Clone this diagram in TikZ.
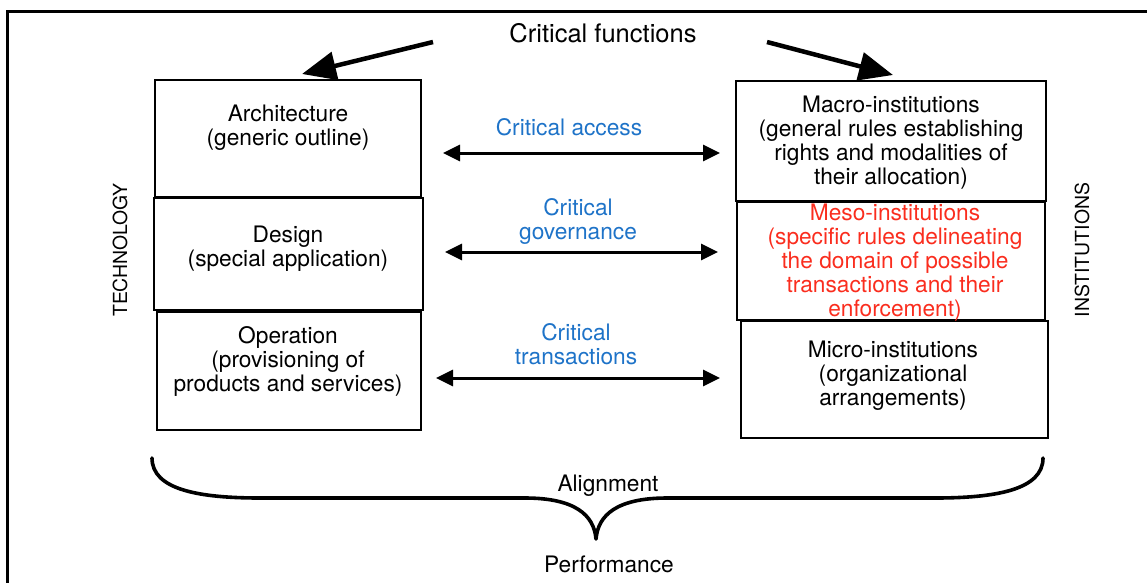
\documentclass[tikz,border=0pt]{standalone}
\usepackage{fontspec}
\setmainfont{TeX Gyre Heros}
\usetikzlibrary{arrows.meta}
\definecolor{keyblue}{RGB}{30,115,200}
\definecolor{keyred}{RGB}{250,45,30}
\begin{document}
\begin{tikzpicture}[x=1pt,y=-1pt,
  layerbox/.style={draw,line width=2.8pt,inner sep=0pt},
  txt/.style={font=\fontsize{22.7}{24}\selectfont,align=center,inner sep=0pt},
  side/.style={font=\fontsize{19.4}{20}\selectfont,rotate=90,inner sep=0pt},
  link/.style={line width=3pt,{Triangle[length=17pt,width=16pt]}-{Triangle[length=17pt,width=16pt]}},
  feed/.style={line width=4.5pt,-{Triangle[length=34pt,width=28pt]}},
  bracket/.style={line width=3.6pt,line cap=round,line join=round}]
\useasboundingbox (0,0) rectangle (1147,582);

% frame
\draw[line width=3pt] (1160,11) -- (7,11) -- (7,600);

% technology layers
\node[layerbox,minimum width=266pt,minimum height=117pt] (arch) at (288,138.5) {};
\node[layerbox,minimum width=269pt,minimum height=112pt] (design) at (288.5,254) {};
\node[layerbox,minimum width=264pt,minimum height=118pt] (oper) at (289,371) {};
\node[txt] (archtxt) at (288,127.5) {Architecture\\(generic outline)};
\node[txt] (designtxt) at (288,248.5) {Design\\(special application)};
\node[txt] (opertxt) at (288,361.5) {Operation\\(provisioning of\\products and services)};

% institution layers
\node[layerbox,minimum width=310pt,minimum height=120pt] (macro) at (891,141) {};
\node[layerbox,minimum width=308pt,minimum height=118pt] (meso) at (891,261) {};
\node[layerbox,minimum width=307pt,minimum height=117pt] (micro) at (894.5,379.5) {};
\node[txt] (macrotxt) at (891,142.5) {Macro-institutions\\(general rules establishing\\rights and modalities of\\their allocation)};
\node[txt,text=keyred] (mesotxt) at (895,262.5) {Meso-institutions\\(specific rules delineating\\the domain of possible\\transactions and their\\enforcement)};
\node[txt] (microtxt) at (893,375.5) {Micro-institutions\\(organizational\\arrangements)};

% side labels
\node[side] (tech) at (120,250) {TECHNOLOGY};
\node[side] (inst) at (1082,250) {INSTITUTIONS};

% critical functions
\node[txt,font=\fontsize{25.5}{27}\selectfont] (func) at (603,33) {Critical functions};
\coordinate (fl) at (433,42);
\coordinate (fr) at (767,42);
\coordinate (al) at (302,74);
\coordinate (ar) at (893,75);
\draw[feed] (fl) -- (al);
\draw[feed] (fr) -- (ar);

% links between layers
\node[txt,text=keyblue] (acc) at (569,127.5) {Critical access};
\node[txt,text=keyblue] (gov) at (578,221.5) {Critical\\governance};
\node[txt,text=keyblue] (trans) at (576,344.5) {Critical\\transactions};
\coordinate (l1) at (443,153); \coordinate (r1) at (720,153);
\coordinate (l2) at (445,252); \coordinate (r2) at (718,252);
\coordinate (l3) at (436,378); \coordinate (r3) at (720,378);
\draw[link] (l1) -- (r1);
\draw[link] (l2) -- (r2);
\draw[link] (l3) -- (r3);

% alignment brace
\coordinate (bl) at (152,458);
\coordinate (bt) at (596,539);
\coordinate (br) at (1043,458);
\draw[bracket] (bl) .. controls (152,490) and (200,498) .. (260,498) -- (525,498)
  .. controls (575,498) and (594,515) .. (bt)
  .. controls (598,515) and (617,498) .. (667,498) -- (935,498)
  .. controls (995,498) and (1043,490) .. (br);
\node[txt] (align) at (608,485.5) {Alignment};
\node[txt] (perf) at (609,564.5) {Performance};
\end{tikzpicture}
\end{document}
